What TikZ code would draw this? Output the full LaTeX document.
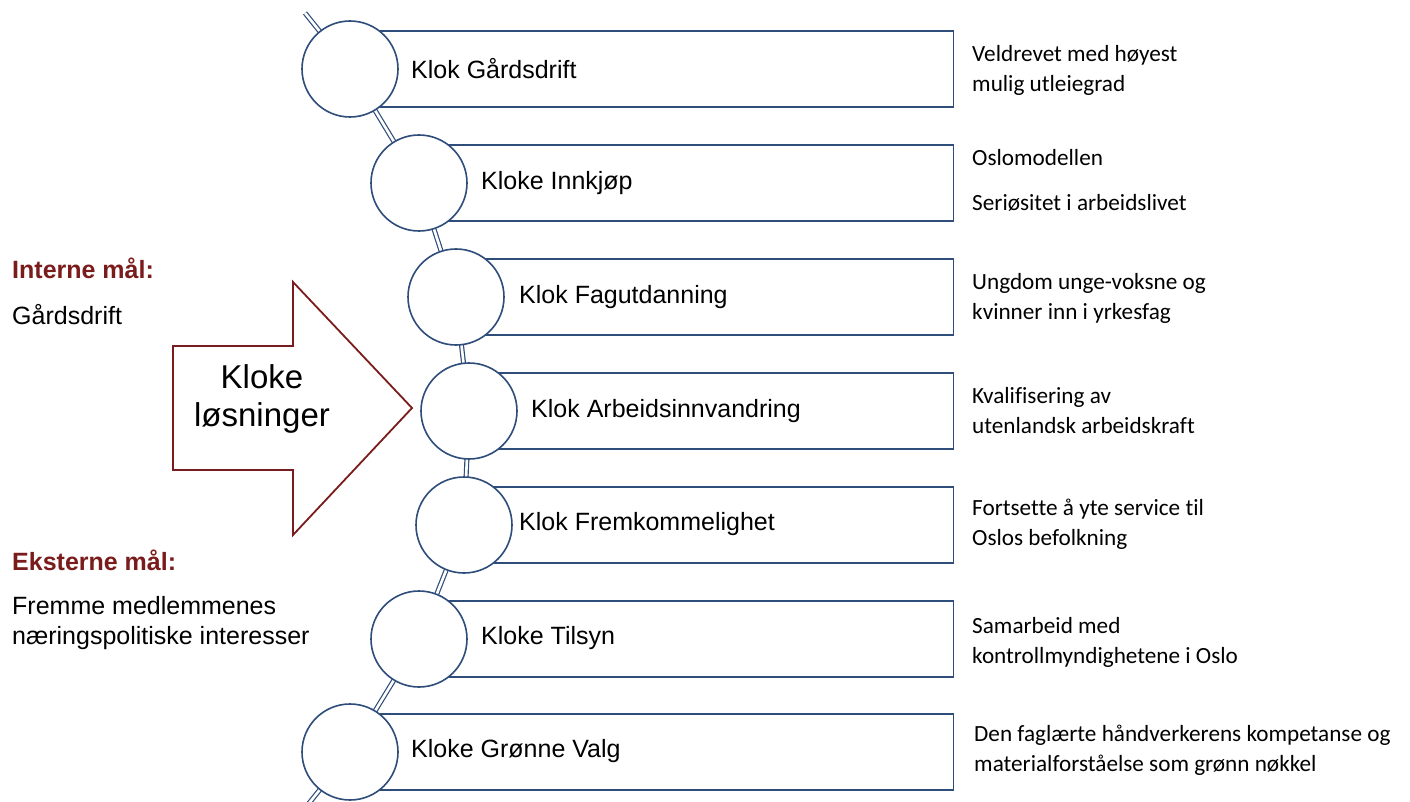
\documentclass[tikz,border=0pt]{standalone}
\usepackage{fontspec}
\setmainfont{Liberation Sans}
\newfontfamily\calib[Ligatures=NoCommon]{Carlito}
\definecolor{kblue}{RGB}{47,77,122}
\definecolor{kred}{RGB}{122,28,28}
\begin{document}
\begin{tikzpicture}[x=1pt,y=-1pt,
  spine/.style={draw=kblue,line width=1.2pt,double=white,double distance=2.6pt},
  kbox/.style={draw=kblue,line width=1.4pt,fill=white,rectangle,anchor=west,minimum height=76pt,inner sep=0pt},
  kcirc/.style={draw=kblue,line width=1.6pt,fill=white,circle,minimum size=96pt,inner sep=0pt},
  klabel/.style={anchor=west,font=\fontsize{25}{30}\selectfont,inner sep=0pt},
  kdesc/.style={anchor=west,align=left,font=\calib\fontsize{23.2}{30}\selectfont,inner sep=0pt},
  khead/.style={anchor=west,font=\bfseries\fontsize{25}{30}\selectfont,text=kred,inner sep=0pt},
  kleft/.style={anchor=west,align=left,font=\fontsize{25}{30}\selectfont,inner sep=0pt}]
\useasboundingbox (0,0) rectangle (1410,802);
\fill[white] (0,0) rectangle (1410,802);
% spine points
\coordinate (top) at (305,13);
\coordinate (p1) at (350,69);
\coordinate (p2) at (419,183);
\coordinate (p3) at (456,297);
\coordinate (p4) at (469,411);
\coordinate (p5) at (464,525);
\coordinate (p6) at (419,639);
\coordinate (p7) at (350,752);
\coordinate (bot) at (302,812);
\begin{scope}
\clip (0,0) rectangle (1410,802);
\draw[spine] (top) -- (p1) -- (p2) -- (p3) -- (p4) -- (p5) -- (p6) -- (p7) -- (bot);
\end{scope}
% boxes
\node[kbox,minimum width=603pt] (r1) at (p1) {};
\node[kbox,minimum width=534pt] (r2) at (p2) {};
\node[kbox,minimum width=497pt] (r3) at (p3) {};
\node[kbox,minimum width=484pt] (r4) at (p4) {};
\node[kbox,minimum width=489pt] (r5) at (p5) {};
\node[kbox,minimum width=534pt] (r6) at (p6) {};
\node[kbox,minimum width=603pt] (r7) at (p7) {};
% circles
\foreach \i in {1,...,7}{\node[kcirc] (c\i) at (p\i) {};}
% labels
\node[klabel] (l1) at (411,69) {Klok Gårdsdrift};
\node[klabel] (l2) at (481,183) {Kloke Innkjøp};
\node[klabel] (l3) at (519,297) {Klok Fagutdanning};
\node[klabel] (l4) at (531,411) {Klok Arbeidsinnvandring};
\node[klabel] (l5) at (519,524) {Klok Fremkommelighet};
\node[klabel] (l6) at (481,638) {Kloke Tilsyn};
\node[klabel] (l7) at (411,751) {Kloke Grønne Valg};
% descriptions
\node[kdesc] (d1) at (972,70) {Veldrevet med høyest\\mulig utleiegrad};
\node[kdesc] (d2) at (972,180) {Oslomodellen\\[15pt]Seriøsitet i arbeidslivet};
\node[kdesc] (d3) at (972,298) {Ungdom unge-voksne og\\kvinner inn i yrkesfag};
\node[kdesc] (d4) at (972,411) {Kvalifisering av\\utenlandsk arbeidskraft};
\node[kdesc] (d5) at (972,524) {Fortsette å yte service til\\Oslos befolkning};
\node[kdesc] (d6) at (972,642) {Samarbeid med\\kontrollmyndighetene i Oslo};
\node[kdesc] (d7) at (974,750) {Den faglærte håndverkerens kompetanse og\\materialforståelse som grønn nøkkel};
% big arrow
\draw[draw=kred,line width=1.8pt,fill=white] (173,346) -- (293,346) -- (293,282) -- (412,408) -- (293,535) -- (293,470) -- (173,470) -- cycle;
\node[align=center,font=\fontsize{33}{38}\selectfont,inner sep=0pt] (arr) at (262,399) {Kloke\\løsninger};
% left texts
\node[khead] (h1) at (12,268) {Interne mål:};
\node[kleft] (t1) at (12,315) {Gårdsdrift};
\node[khead] (h2) at (12,560) {Eksterne mål:};
\node[kleft] (t2) at (12,623) {Fremme medlemmenes\\næringspolitiske interesser};
\end{tikzpicture}
\end{document}
